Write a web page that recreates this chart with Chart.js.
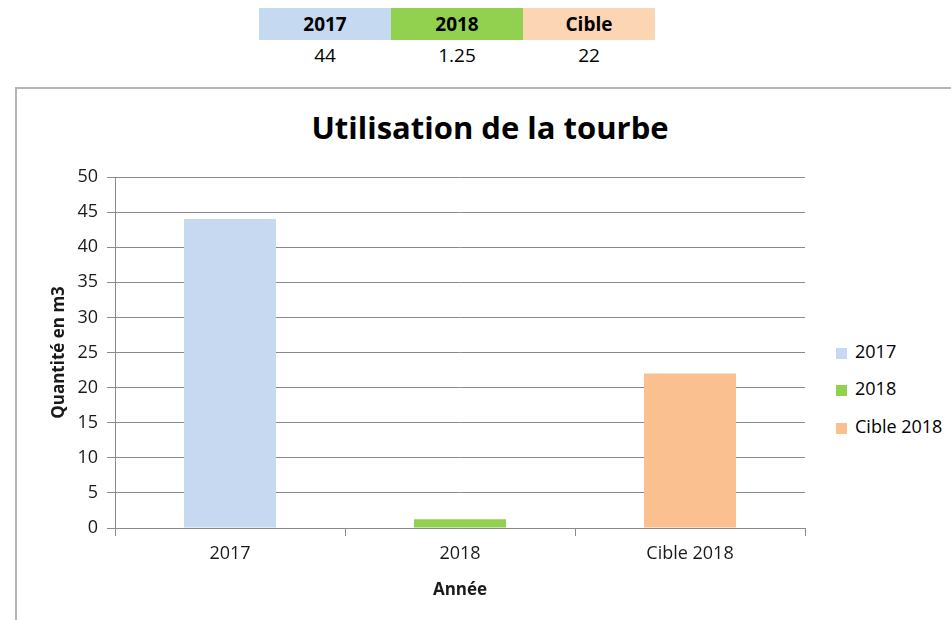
<!DOCTYPE html>
<html>
<head>
<meta charset="utf-8">
<script src="https://cdn.jsdelivr.net/npm/chart.js@4.4.1/dist/chart.umd.min.js"></script>
<style>
  html,body{margin:0;padding:0;background:#fff;width:951px;height:620px;overflow:hidden;font-family:'Open Sans',sans-serif;color:#000;}
  #tbl{position:absolute;left:259px;top:8px;border-collapse:collapse;}
  #tbl td{width:132px;padding:0;text-align:center;font-size:19px;}
  #tbl tr.hd td{height:32px;font-weight:700;}
  #tbl tr.vl td{height:30px;}
  #box{position:absolute;left:15px;top:87px;width:1000px;height:600px;border:2px solid #b4b4b4;}
  #ttl{position:absolute;left:0;width:980px;top:106px;text-align:center;font-size:31px;font-weight:700;}
  #leg{position:absolute;left:836px;top:0;}
  .li{position:absolute;left:0;white-space:nowrap;font-size:18px;line-height:20px;}
  .li span{display:inline-block;width:11px;height:11px;margin-right:8px;vertical-align:-1px;}
  canvas{position:absolute;left:0;top:0;}
</style>
</head>
<body>
<table id="tbl"><tr class="hd"></tr><tr class="vl"></tr></table>
<div id="box"></div>
<div id="ttl">Utilisation de la tourbe</div>
<div id="leg"></div>
<canvas id="c" width="951" height="620"></canvas>
<script>
// ===================== DONNÉES =====================
const categories = ['2017','2018','Cible 2018'];
const values     = [44, 1.25, 22];
const tblHeads   = ['2017','2018','Cible'];
const tblVals    = ['44','1.25','22'];
const yTicks     = [0,5,10,15,20,25,30,35,40,45,50];

const BAR_COLORS  = ['#c6d9f1','#92d050','#fac090'];
const HEAD_COLORS = ['#c5d9f1','#92d050','#fcd5b4'];
const GRID = '#8a8a8a';
const TXT  = '#1a1a1a';
const FONT = "'Open Sans', sans-serif";

// ---- petit tableau en haut ----
document.querySelector('#tbl tr.hd').innerHTML =
  tblHeads.map((h,i)=>`<td style="background:${HEAD_COLORS[i]}">${h}</td>`).join('');
document.querySelector('#tbl tr.vl').innerHTML =
  tblVals.map(v=>`<td>${v}</td>`).join('');

// ---- légende ----
const legTops = [341,378,416];
document.getElementById('leg').innerHTML = categories.map((c,i)=>
  `<div class="li" style="top:${legTops[i]}px"><span style="background:${BAR_COLORS[i]}"></span>${c}</div>`).join('');

// ---- graphique ----
const PAD_L = 49;
new Chart(document.getElementById('c').getContext('2d'),{
  type:'bar',
  data:{labels:categories, datasets:[{label:'Quantité',data:values,backgroundColor:BAR_COLORS,
    barPercentage:0.4,categoryPercentage:1}]},
  options:{responsive:false,animation:false,
    layout:{padding:{top:177,right:146,bottom:20,left:PAD_L}},
    plugins:{legend:{display:false},tooltip:{enabled:false}},
    scales:{
      x:{
        afterFit:s=>{ s.height=72; },
        grid:{display:true,drawOnChartArea:false,drawTicks:true,tickLength:8,color:GRID,offset:true},
        border:{display:true,color:GRID,width:1},
        ticks:{color:TXT,font:{family:FONT,size:18},padding:7},
        title:{display:true,text:'Année',color:TXT,font:{family:FONT,size:17,weight:'bold'},padding:{top:0,bottom:0}}
      },
      y:{
        min:0,max:50,
        afterFit:s=>{ s.width=115-PAD_L; },
        afterBuildTicks:s=>{ s.ticks=yTicks.map(v=>({value:v})); },
        grid:{color:GRID,tickLength:8,drawTicks:true},
        border:{display:true,color:GRID,width:1},
        ticks:{color:TXT,font:{family:FONT,size:18},padding:9},
        title:{display:true,text:'Quantité en m3',color:TXT,font:{family:FONT,size:17,weight:'bold'},padding:{top:0,bottom:0}}
      }
    }
  }
});
</script>
</body>
</html>
